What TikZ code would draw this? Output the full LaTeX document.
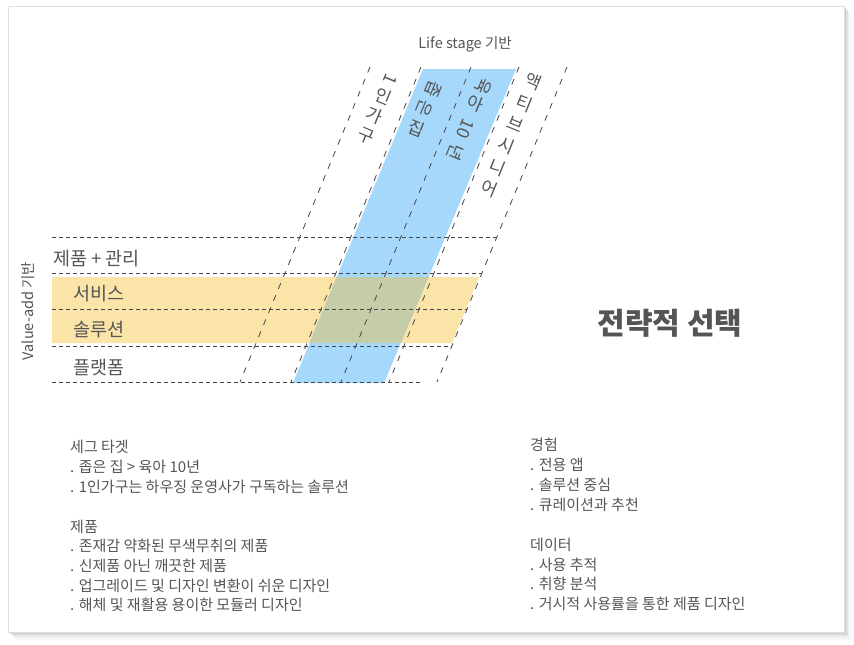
\documentclass[tikz,border=0pt]{standalone}
\usepackage{fontspec}
\setmainfont{Noto Sans CJK KR}
\definecolor{inkgray}{RGB}{85,85,85}
\definecolor{linegray}{RGB}{70,70,70}
\definecolor{stageblue}{RGB}{166,216,251}
\definecolor{valueorange}{RGB}{251,228,168}
\definecolor{overlapgreen}{RGB}{196,204,168}

\begin{document}
\begin{tikzpicture}[x=1pt, y=-1pt,
    every node/.style={text=inkgray, inner sep=0pt},
    gridline/.style={draw=linegray, line width=0.8pt, dash pattern=on 4pt off 3pt},
    stageline/.style={draw=linegray, line width=0.8pt, dash pattern=on 6pt off 7pt},
    rowlabel/.style={font=\fontsize{18.5}{22}\selectfont, anchor=west},
    stackchar/.style={font=\fontsize{17.5}{20}\selectfont},
    axislabel/.style={font=\fontsize{14.5}{17}\selectfont},
    notetext/.style={font=\fontsize{15}{18}\selectfont, anchor=west},
    bigtitle/.style={font=\fontsize{30}{34}\selectfont\bfseries}
]
\useasboundingbox (0,0) rectangle (854,645);
\def\ytop{67}
\def\ybot{382}
\def\slant{0.4127}
\def\stepx{-8.2}
\def\stepy{19.9}

% card with shadow
\foreach \k/\op in {8/3, 6/6, 4/12, 2/20}
  \fill[black!\op] (8+\k,6+\k) rectangle (844+\k*0.9,632+\k);
\fill[white, draw=black!12] (8,6) rectangle (844,632);

% bands
\fill[valueorange] (52,277) -- (479,277) -- (452,343) -- (52,343) -- cycle;
\fill[stageblue] (423,69) -- (516,69) -- (384,383) -- (293,383) -- cycle;
\begin{scope}
  \clip (52,277) -- (479,277) -- (452,343) -- (52,343) -- cycle;
  \fill[overlapgreen] (423,69) -- (516,69) -- (384,383) -- (293,383) -- cycle;
\end{scope}

% grid
\foreach \y in {237, 273, 309.5, 346}
  \draw[gridline] (52,\y) -- ({567-\slant*(\y-\ytop)},\y);
\draw[gridline] (52,\ybot) -- (422,\ybot);
\foreach \xt in {370, 421, 471, 519, 567}
  \draw[stageline] (\xt,\ytop) -- ({\xt-\slant*(\ybot-\ytop)},\ybot);

\node[axislabel] (lifestage) at (465,44) {Life stage 기반};
\node[axislabel, rotate=90] (valueadd) at (28,311) {Value-add 기반};

% life stages, one glyph at a time down each column
\foreach \c/\r/\k [count=\i] in {1/-112.4/0, 인/-22.4/0.85, 가/-22.4/1.85, 구/-22.4/2.85}
  \node[stackchar, rotate=\r] (single\i) at ({390+\k*\stepx},{79+\k*\stepy}) {\c};
\foreach \c/\r/\k [count=\i] in {좁/-112.4/0, 은/-112.4/1, 집/-22.4/2}
  \node[stackchar, rotate=\r] (smallhome\i) at ({433+\k*\stepx},{89+\k*\stepy}) {\c};
\foreach \c/\r/\k [count=\i] in {육/-112.4/0, 아/-22.4/0.9, 10/-112.4/2.15, 년/-112.4/3.35}
  \node[stackchar, rotate=\r] (parenting\i) at ({483+\k*\stepx},{86+\k*\stepy}) {\c};
\foreach \c [count=\i] in {액, 티, 브, 시, 니, 어}
  \node[stackchar, rotate=-22.4] (senior\i) at ({533+1.07*(\i-1)*\stepx},{82+1.07*(\i-1)*\stepy}) {\c};

\node[rowlabel] (prodmgmt) at (53,259) {제품 + 관리};
\node[rowlabel] (service) at (73,294) {서비스};
\node[rowlabel] (solution) at (73,330) {솔루션};
\node[rowlabel] (platform) at (73,368) {플랫폼};

\node[bigtitle] (choice) at (670,323) {전략적 선택};

% notes
\foreach \t [count=\i] in {세그 타겟, . 좁은 집 > 육아 10년, . 1인가구는 하우징 운영사가 구독하는 솔루션}
  \node[notetext] (seg\i) at (70,{446.7+20*(\i-1)}) {\t};
\foreach \t [count=\i] in {제품, . 존재감 약화된 무색무취의 제품, . 신제품 아닌 깨끗한 제품,
    . 업그레이드 및 디자인 변환이 쉬운 디자인, . 해체 및 재활용 용이한 모듈러 디자인}
  \node[notetext] (prod\i) at (70,{526.7+19.6*(\i-1)}) {\t};
\foreach \t [count=\i] in {경험, . 전용 앱, . 솔루션 중심, . 큐레이션과 추천}
  \node[notetext] (exp\i) at (530,{445+20*(\i-1)}) {\t};
\foreach \t [count=\i] in {데이터, . 사용 추적, . 취향 분석, . 거시적 사용률을 통한 제품 디자인}
  \node[notetext] (data\i) at (530,{545+19.5*(\i-1)}) {\t};

\end{tikzpicture}
\end{document}
